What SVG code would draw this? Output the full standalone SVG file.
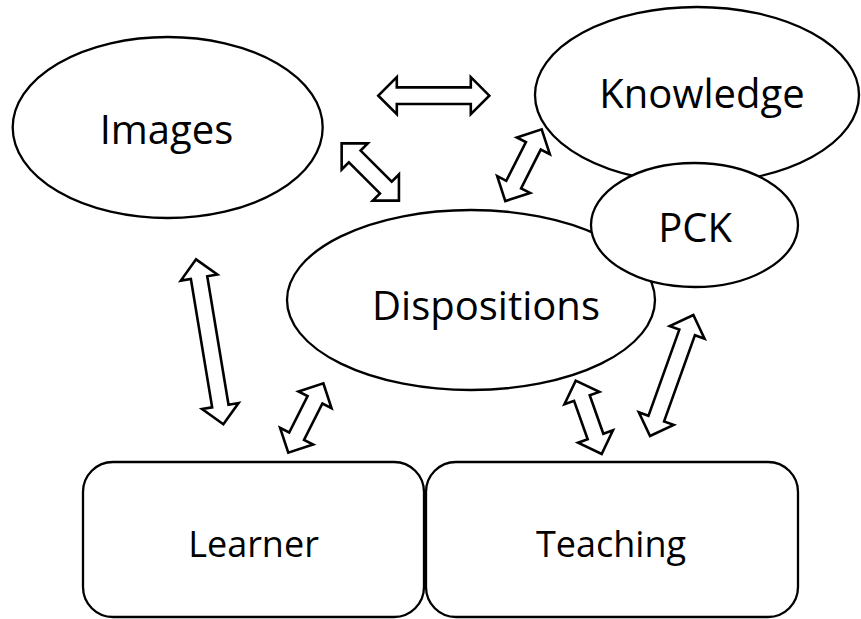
<svg xmlns="http://www.w3.org/2000/svg" width="861" height="619" viewBox="0 0 861 619">
<style>
.n{fill:#fff;stroke:#000;stroke-width:2.3}
.t{font-family:"Open Sans","Liberation Sans",sans-serif;font-size:40px;fill:#000;text-anchor:middle}
.tb{font-size:36px}
.a{fill:#fff;stroke:#000;stroke-width:2.6;stroke-linejoin:miter}
</style>
<rect width="861" height="619" fill="#fff"/>
<g id="connectors">
<path class="a" transform="translate(433.8 95.7)" d="M-55.5 0 L-37 -18.5 L-37 -8.3 L37 -8.3 L37 -18.5 L55.5 0 L37 18.5 L37 8.3 L-37 8.3 L-37 18.5 Z"/>
<path class="a" transform="translate(370.3 172) rotate(45)" d="M-40.5 0 L-22 -18.5 L-22 -8.3 L22 -8.3 L22 -18.5 L40.5 0 L22 18.5 L22 8.3 L-22 8.3 L-22 18.5 Z"/>
<path class="a" transform="translate(523.5 165.2) rotate(116.9)" d="M-40.2 0 L-21.7 -18.5 L-21.7 -8.3 L21.7 -8.3 L21.7 -18.5 L40.2 0 L21.7 18.5 L21.7 8.3 L-21.7 8.3 L-21.7 18.5 Z"/>
<path class="a" transform="translate(209.7 341.8) rotate(80.6)" d="M-83.6 0 L-65.1 -18.5 L-65.1 -8.3 L65.1 -8.3 L65.1 -18.5 L83.6 0 L65.1 18.5 L65.1 8.3 L-65.1 8.3 L-65.1 18.5 Z"/>
<path class="a" transform="translate(305.8 418) rotate(116.8)" d="M-38.9 0 L-20.4 -18.5 L-20.4 -8.3 L20.4 -8.3 L20.4 -18.5 L38.9 0 L20.4 18.5 L20.4 8.3 L-20.4 8.3 L-20.4 18.5 Z"/>
<path class="a" transform="translate(588.7 417.3) rotate(70.5)" d="M-38.9 0 L-20.4 -18.5 L-20.4 -8.3 L20.4 -8.3 L20.4 -18.5 L38.9 0 L20.4 18.5 L20.4 8.3 L-20.4 8.3 L-20.4 18.5 Z"/>
<path class="a" transform="translate(671.7 375.5) rotate(109.7)" d="M-64.3 0 L-45.8 -18.5 L-45.8 -8.3 L45.8 -8.3 L45.8 -18.5 L64.3 0 L45.8 18.5 L45.8 8.3 L-45.8 8.3 L-45.8 18.5 Z"/>
</g>
<g id="images">
<ellipse class="n" cx="167.7" cy="127.5" rx="155" ry="90.5"/>
<text class="t" x="166.5" y="144">Images</text>
</g>
<g id="knowledge">
<ellipse class="n" cx="697" cy="95" rx="162" ry="88"/>
<text class="t" x="702" y="108">Knowledge</text>
</g>
<g id="dispositions">
<ellipse class="n" cx="471" cy="300" rx="184" ry="90"/>
<text class="t" x="486" y="320">Dispositions</text>
</g>
<g id="pck">
<ellipse class="n" cx="694.5" cy="225" rx="103.5" ry="62"/>
<text class="t" x="695" y="242">PCK</text>
</g>
<g id="learner">
<rect class="n" x="83" y="462" width="341" height="155" rx="30" ry="30"/>
<text class="t tb" x="253.5" y="557">Learner</text>
</g>
<g id="teaching">
<rect class="n" x="426" y="462" width="372" height="155" rx="30" ry="30"/>
<text class="t tb" x="611" y="557">Teaching</text>
</g>
</svg>
